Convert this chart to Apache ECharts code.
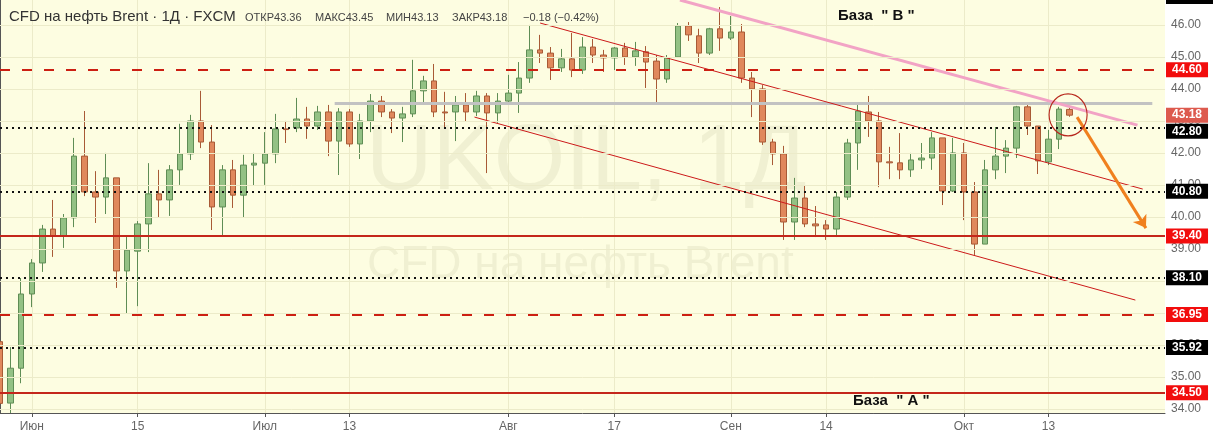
<!DOCTYPE html>
<html>
<head>
<meta charset="utf-8">
<title>UKOIL 1Д</title>
<script src="https://cdn.jsdelivr.net/npm/echarts@6/dist/echarts.min.js"></script>
<style>
  html, body { margin: 0; padding: 0; background: #fff; }
  #chart { width: 1213px; height: 435px; }
</style>
</head>
<body>
<div id="chart"></div>
<script>
// торговые дни 2020, хвост без свечей - пустое место справа
const dates = [
  '05-27','05-28','05-29',
  '06-01','06-02','06-03','06-04','06-05','06-08','06-09','06-10','06-11','06-12','06-15','06-16','06-17','06-18','06-19','06-22','06-23','06-24','06-25','06-26','06-29','06-30',
  '07-01','07-02','07-03','07-06','07-07','07-08','07-09','07-10','07-13','07-14','07-15','07-16','07-17','07-20','07-21','07-22','07-23','07-24','07-27','07-28','07-29','07-30','07-31',
  '08-03','08-04','08-05','08-06','08-07','08-10','08-11','08-12','08-13','08-14','08-17','08-18','08-19','08-20','08-21','08-24','08-25','08-26','08-27','08-28','08-31',
  '09-01','09-02','09-03','09-04','09-07','09-08','09-09','09-10','09-11','09-14','09-15','09-16','09-17','09-18','09-21','09-22','09-23','09-24','09-25','09-28','09-29','09-30',
  '10-01','10-02','10-05','10-06','10-07','10-08','10-09','10-12','10-13','10-14','10-15','10-16','10-19','10-20','10-21','10-22','10-23','10-26','10-27','10-28'
]

// подписи оси X
const dateLabels = {
  '06-01': 'Июн', '06-15': '15', '07-01': 'Июл', '07-13': '13', '08-03': 'Авг',
  '08-17': '17', '09-01': 'Сен', '09-14': '14', '10-01': 'Окт', '10-13': '13'
}

const opens = [
  36.10,34.18,35.27,37.59,38.56,39.62,39.40,39.97,41.90,40.78,
  40.62,41.22,38.31,38.93,39.78,40.72,40.53,41.47,41.97,43.00,
  42.34,40.31,41.47,40.68,41.62,41.68,41.97,42.75,42.78,43.06,
  42.84,43.28,42.37,43.28,42.28,43.00,43.62,43.28,43.09,43.22,
  43.94,44.25,43.28,43.28,43.50,43.28,43.78,43.25,43.62,43.87,
  44.34,45.22,45.12,44.66,44.94,44.59,45.31,45.06,44.97,45.28,
  45.00,45.16,44.87,44.31,45.00,45.97,45.66,45.12,45.88,45.59,
  45.78,44.34,44.00,42.34,41.97,39.84,40.59,39.78,39.75,39.62,
  40.62,42.31,43.28,43.00,41.72,41.69,41.47,41.78,41.84,42.47,
  40.81,42.00,40.78,39.15,41.47,41.90,42.15,43.44,42.84,41.72,
  42.43,43.36
]
const closes = [
  34.17,35.27,37.59,38.56,39.62,39.40,39.97,41.90,40.78,40.62,
  41.22,38.31,38.96,39.78,40.72,40.53,41.47,41.97,43.00,42.34,
  40.31,41.47,40.68,41.62,41.68,41.97,42.75,42.73,43.06,42.84,
  43.28,42.37,43.28,42.28,43.00,43.62,43.28,43.09,43.22,43.94,
  44.25,43.28,43.25,43.50,43.28,43.78,43.25,43.62,43.87,44.34,
  45.22,45.12,44.66,44.94,44.59,45.31,45.06,44.97,45.28,45.00,
  45.19,44.84,44.31,44.97,45.97,45.69,45.12,45.88,45.59,45.78,
  44.34,44.00,42.34,41.97,39.84,40.59,39.78,39.72,39.62,40.62,
  42.31,43.31,43.00,41.72,41.69,41.47,41.78,41.84,42.47,40.81,
  42.00,40.78,39.15,41.47,41.90,42.15,43.44,42.84,41.75,42.43,
  43.37,43.18
]
const lows = [
  34.12,33.87,34.80,37.18,38.28,38.75,39.03,39.68,40.65,39.81,
  40.09,37.78,36.99,37.21,38.90,39.99,40.03,41.00,41.78,42.15,
  39.59,39.43,40.28,39.99,40.97,41.00,41.68,42.31,42.65,42.44,
  42.72,41.90,41.31,42.19,41.81,42.65,43.12,42.62,42.34,43.12,
  43.59,43.12,42.78,42.37,42.97,43.15,41.37,42.94,43.56,43.25,
  44.19,44.81,44.28,44.53,44.37,44.47,44.81,44.53,44.59,44.75,
  44.72,44.03,43.59,44.19,44.97,45.50,44.81,45.06,45.19,45.53,
  44.19,43.12,42.25,41.62,39.28,39.28,39.68,39.37,39.28,39.37,
  40.53,41.47,42.50,40.93,41.18,41.18,41.25,41.50,41.47,40.37,
  40.78,39.90,38.81,39.15,41.18,41.37,41.84,42.56,41.34,41.62,
  42.12,43.13
]
const highs = [
  36.21,35.93,38.09,38.68,39.75,40.53,40.09,42.47,43.31,41.43,
  42.00,41.22,39.37,39.87,41.68,41.47,41.62,42.91,43.19,43.94,
  42.87,41.62,41.78,41.94,42.00,42.65,43.22,43.00,43.72,43.44,
  43.47,43.50,43.40,43.37,43.22,43.84,43.78,43.37,43.44,44.91,
  44.41,44.78,43.91,43.78,43.87,43.94,43.87,43.87,44.44,44.84,
  46.00,45.69,45.31,45.25,45.75,45.62,45.56,45.22,45.31,45.44,
  45.47,45.34,45.06,45.06,46.06,46.09,45.88,45.91,46.56,46.28,
  46.03,44.53,44.12,42.44,42.22,41.22,40.97,40.34,39.90,40.78,
  42.44,43.50,43.78,43.28,42.19,42.62,42.00,42.31,42.65,42.47,
  42.47,42.31,41.09,41.78,42.81,42.40,43.47,43.53,42.84,42.72,
  43.44,43.45
]

// шкала цены
const priceTicks = [34, 35, 36, 37, 38, 39, 40, 41, 42, 43, 44, 45, 46]
const priceMin = 33.87
const priceMax = 46.78

// уровни
const redDashed = [44.60, 36.95]
const redSolid = [39.40, 34.50]
const blackDotted = [42.80, 40.80, 38.10, 35.92]
const lastClose = 43.18

// наклонные линии: [индекс свечи, цена]
const grayLevel = [[31.6, 43.56], [108.8, 43.56]]
const pinkTrend = [[64.2, 46.78], [107.4, 42.87]]
const channelTop = [[51.0, 46.06], [107.9, 40.87]]
const channelBottom = [[44.8, 43.12], [107.2, 37.40]]
const forecastArrow = [[101.7, 43.12], [108.2, 39.65]]
const circleMark = [100.85, 43.19]

const gridColor = '#ecebc9'
const font = 'Liberation Sans'

let chart = echarts.init(document.getElementById('chart'))

const isLabelDay = (i) => dateLabels[dates[i]] !== undefined
const candleData = opens.map((o, i) => [o, closes[i], lows[i], highs[i]])

function level(v, color, type, bg, shiftY) {
  return {
    yAxis: v,
    lineStyle: { color: color, type: type, width: 2 },
    label: {
      show: true,
      position: 'end',
      distance: 1,
      offset: [0, shiftY || 0],
      formatter: v.toFixed(2),
      backgroundColor: bg,
      color: '#fff',
      fontWeight: 'bold',
      fontFamily: font,
      fontSize: 12,
      padding: [2, 6, 1, 6],
    },
  }
}

const levelLines = [
  ...redDashed.map(v => level(v, '#cc1f12', [10, 12], '#f20d0d')),
  ...redSolid.map(v => level(v, '#c4261b', 'solid', '#f20d0d')),
  // метка 42.80 сдвинута вниз, чтобы не налезать на последнюю цену
  ...blackDotted.map(v => level(v, '#111', [2, 4], '#000', v === 42.80 ? 4 : 0)),
  // последняя цена - только метка на шкале
  level(lastClose, 'rgba(0,0,0,0)', 'solid', '#dd5a4e'),
]

let option = {
  animation: false,
  backgroundColor: '#fff',
  grid: { left: 0, right: 48, top: 0, bottom: 22 },
  xAxis: [
    {
      type: 'category',
      data: dates,
      boundaryGap: false,
      axisLine: { lineStyle: { color: '#555' } },
      axisTick: { interval: isLabelDay, length: 4, lineStyle: { color: '#555' } },
      axisLabel: {
        interval: isLabelDay,
        formatter: (v) => dateLabels[v] || '',
        color: '#666',
        fontFamily: font,
        fontSize: 12,
        margin: 8,
      },
      splitLine: { show: true, interval: isLabelDay, lineStyle: { color: gridColor } },
    },
    { type: 'value', min: 0, max: dates.length - 1, show: false },
  ],
  yAxis: {
    type: 'value',
    position: 'right',
    min: priceMin,
    max: priceMax,
    axisLine: { show: true, lineStyle: { color: '#555' } },
    axisTick: { show: true, customValues: priceTicks, length: 4, lineStyle: { color: '#555' } },
    axisLabel: {
      customValues: priceTicks,
      formatter: (v) => v.toFixed(2),
      color: '#666',
      fontFamily: font,
      fontSize: 12,
      margin: 6,
    },
    splitLine: { show: false },
  },
  graphic: [
    { type: 'rect', z: -10, silent: true, shape: { x: 0, y: 0, width: 1165, height: 413 }, style: { fill: '#fdfde1' } },
    { type: 'text', z: -5, silent: true, left: 366, top: 118,
      style: { text: 'UKOIL, 1Д', font: '92px "Liberation Sans"', fill: 'rgba(150,150,110,0.12)' } },
    { type: 'text', z: -5, silent: true, left: 367, top: 242,
      style: { text: 'CFD на нефть Brent', font: '46px "Liberation Sans"', fill: 'rgba(150,150,110,0.12)' } },
    { type: 'rect', z: 10, shape: { x: 1166, y: 0, width: 47, height: 4 }, style: { fill: '#000' } },
    { type: 'text', z: 10, left: 9, top: 9,
      style: { text: 'CFD на нефть Brent · 1Д · FXCM', font: '15px "Liberation Sans"', fill: '#333' } },
    { type: 'text', z: 10, left: 245, top: 12,
      style: { text: 'ОТКР43.36', font: '11px "Liberation Sans"', fill: '#444' } },
    { type: 'text', z: 10, left: 315, top: 12,
      style: { text: 'МАКС43.45', font: '11px "Liberation Sans"', fill: '#444' } },
    { type: 'text', z: 10, left: 386, top: 12,
      style: { text: 'МИН43.13', font: '11px "Liberation Sans"', fill: '#444' } },
    { type: 'text', z: 10, left: 452, top: 12,
      style: { text: 'ЗАКР43.18', font: '11px "Liberation Sans"', fill: '#444' } },
    { type: 'text', z: 10, left: 523, top: 12,
      style: { text: '−0.18 (−0.42%)', font: '11px "Liberation Sans"', fill: '#444' } },
    { type: 'text', z: 10, left: 838, top: 8,
      style: { text: 'База  " B "', font: 'bold 15px "Liberation Sans"', fill: '#111' } },
    { type: 'text', z: 10, left: 853, top: 393,
      style: { text: 'База  " A "', font: 'bold 15px "Liberation Sans"', fill: '#111' } },
  ],
  series: [
    {
      // сетка по целым ценам
      type: 'line',
      data: [],
      z: 1,
      silent: true,
      markLine: {
        silent: true,
        symbol: ['none', 'none'],
        label: { show: false },
        lineStyle: { color: gridColor, type: 'solid', width: 1 },
        data: priceTicks.map(v => ({ yAxis: v })),
      },
    },
    {
      type: 'candlestick',
      data: candleData,
      barWidth: 6,
      z: 3,
      itemStyle: {
        color: '#93c184',
        color0: '#e0885c',
        borderColor: '#5f8d55',
        borderColor0: '#a85a36',
        borderWidth: 1,
      },
      markLine: {
        silent: true,
        symbol: ['none', 'none'],
        data: levelLines,
      },
    },
    {
      type: 'lines',
      coordinateSystem: 'cartesian2d',
      xAxisIndex: 1,
      z: 4,
      silent: true,
      lineStyle: { opacity: 1 },
      data: [
        { coords: grayLevel, lineStyle: { color: '#c2c2c2', width: 3, opacity: 1 } },
        { coords: pinkTrend, lineStyle: { color: '#f2a3c5', width: 3, opacity: 1 } },
        { coords: channelTop, lineStyle: { color: '#cc1a1a', width: 1, opacity: 1 } },
        { coords: channelBottom, lineStyle: { color: '#cc1a1a', width: 1, opacity: 1 } },
      ],
    },
    {
      type: 'lines',
      coordinateSystem: 'cartesian2d',
      xAxisIndex: 1,
      z: 5,
      silent: true,
      symbol: ['none', 'arrow'],
      symbolSize: 12,
      lineStyle: { color: '#f0801e', width: 3, opacity: 1 },
      data: [{ coords: forecastArrow }],
    },
    {
      type: 'scatter',
      xAxisIndex: 1,
      z: 5,
      silent: true,
      symbol: 'circle',
      symbolSize: [38, 42],
      itemStyle: { color: 'rgba(0,0,0,0)', borderColor: '#b8281e', borderWidth: 1.2, opacity: 1 },
      data: [circleMark],
    },
  ],
}

chart.setOption(option)
</script>
</body>
</html>
